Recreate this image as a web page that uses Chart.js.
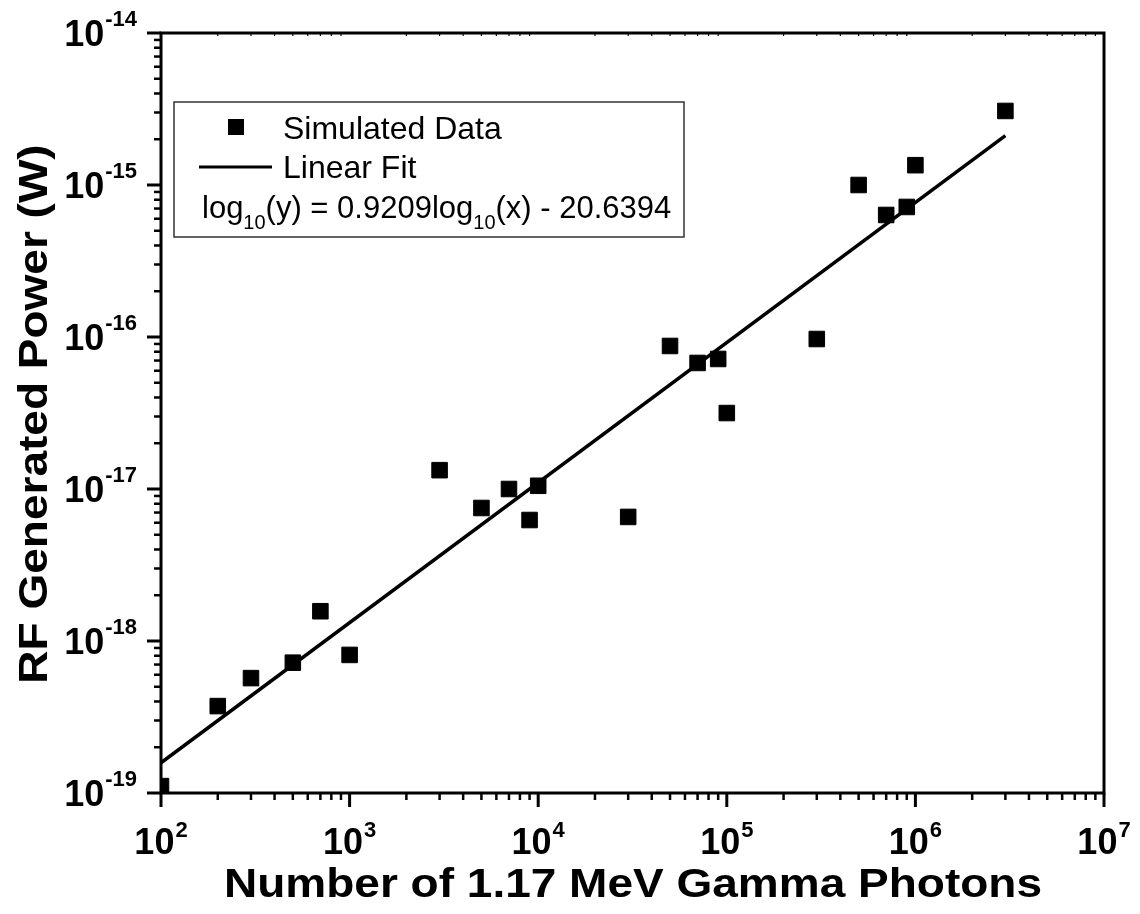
<!DOCTYPE html>
<html>
<head>
<meta charset="utf-8">
<script src="https://cdn.jsdelivr.net/npm/chart.js@4.4.0/dist/chart.umd.min.js"></script>
<style>
  body { margin: 0; background: #fff; }
  #wrap { width: 1140px; height: 914px; }
</style>
</head>
<body>
<div id="wrap"><canvas id="gammaChart"></canvas></div>
<script>
// data
const photons = [100, 200, 300, 500, 700, 1000, 3000, 5000, 7000, 9000, 10000,
  30000, 50000, 70000, 90000, 100000, 300000, 500000, 700000, 900000, 1000000, 3000000];
const rfPower = [1.11e-19, 3.73e-19, 5.7e-19, 7.2e-19, 1.57e-18, 8.1e-19, 1.33e-17,
  7.5e-18, 1.0e-17, 6.25e-18, 1.05e-17, 6.55e-18, 8.73e-17, 6.75e-17, 7.17e-17,
  3.16e-17, 9.7e-17, 1.0e-15, 6.35e-16, 7.17e-16, 1.35e-15, 3.07e-15];
const fitX = [100, 3000000];
const fitY = [1.58e-19, 2.11e-15];

const xDecades = [1e2, 1e3, 1e4, 1e5, 1e6, 1e7];
const xExponents = ['2', '3', '4', '5', '6', '7'];
const yDecades = [1e-19, 1e-18, 1e-17, 1e-16, 1e-15, 1e-14];
const yExponents = ['-19', '-18', '-17', '-16', '-15', '-14'];

const FONT = '"Liberation Sans", Arial, sans-serif';

function wideText(ctx, text, x, y, sx) {
  ctx.save();
  ctx.translate(x, y);
  ctx.scale(sx, 1);
  ctx.fillText(text, 0, 0);
  ctx.restore();
}

function seg(ctx, x1, y1, x2, y2) {
  ctx.beginPath();
  ctx.moveTo(x1, y1);
  ctx.lineTo(x2, y2);
  ctx.stroke();
}

const originAxes = {
  id: 'originAxes',
  afterDraw(chart) {
    const { ctx, chartArea: a, scales: { x, y } } = chart;
    ctx.save();
    ctx.strokeStyle = '#000';
    ctx.fillStyle = '#000';
    ctx.lineCap = 'butt';

    // minor ticks
    for (let i = 0; i < xDecades.length - 1; i++) {
      for (let k = 2; k <= 9; k++) {
        const px = x.getPixelForValue(xDecades[i] * k);
        ctx.lineWidth = 2.5;
        seg(ctx, px, a.bottom, px, a.bottom + 7);
        ctx.lineWidth = 1.2;
        seg(ctx, px, a.top, px, a.top + 3);
      }
    }
    for (let i = 0; i < yDecades.length - 1; i++) {
      for (let k = 2; k <= 9; k++) {
        const py = y.getPixelForValue(yDecades[i] * k);
        ctx.lineWidth = 2.5;
        seg(ctx, a.left - 7, py, a.left, py);
      }
    }
    // major ticks
    ctx.lineWidth = 3;
    xDecades.forEach(v => {
      const px = x.getPixelForValue(v);
      seg(ctx, px, a.bottom, px, a.bottom + 14);
    });
    yDecades.forEach(v => {
      const py = y.getPixelForValue(v);
      seg(ctx, a.left - 14, py, a.left, py);
    });

    // frame
    ctx.lineWidth = 3;
    ctx.strokeRect(a.left, a.top, a.right - a.left, a.bottom - a.top);

    // tick labels
    const bigFont = 'bold 36px ' + FONT;
    const expFont = 'bold 22px ' + FONT;
    ctx.textAlign = 'left';
    ctx.textBaseline = 'alphabetic';
    xDecades.forEach((v, i) => {
      const px = x.getPixelForValue(v);
      ctx.font = bigFont;
      const w10 = ctx.measureText('10').width;
      ctx.font = expFont;
      const we = ctx.measureText(xExponents[i]).width;
      const start = px - (w10 + we + 1) / 2;
      ctx.font = bigFont;
      ctx.fillText('10', start, a.bottom + 61);
      ctx.font = expFont;
      ctx.fillText(xExponents[i], start + w10 + 1, a.bottom + 44);
    });
    yDecades.forEach((v, i) => {
      const py = y.getPixelForValue(v);
      ctx.font = bigFont;
      const w10 = ctx.measureText('10').width;
      ctx.font = expFont;
      const we = ctx.measureText(yExponents[i]).width;
      const start = 137 - (w10 + we + 1);
      ctx.font = bigFont;
      ctx.fillText('10', start, py + 13);
      ctx.font = expFont;
      ctx.fillText(yExponents[i], start + w10 + 1, py - 7);
    });

    // axis titles
    ctx.font = 'bold 40px ' + FONT;
    const sx = 1.15;
    const xt = 'Number of 1.17 MeV Gamma Photons';
    const xw = ctx.measureText(xt).width * sx;
    wideText(ctx, xt, 633 - xw / 2, 897, sx);

    const yt = 'RF Generated Power (W)';
    const yw = ctx.measureText(yt).width * sx;
    ctx.save();
    ctx.translate(47, 414);
    ctx.rotate(-Math.PI / 2);
    wideText(ctx, yt, -yw / 2, 0, sx);
    ctx.restore();

    // legend box
    ctx.fillStyle = '#fff';
    ctx.fillRect(174, 102, 510, 135);
    ctx.strokeStyle = '#333';
    ctx.lineWidth = 1.5;
    ctx.strokeRect(174, 102, 510, 135);
    ctx.fillStyle = '#000';
    ctx.fillRect(228, 119, 16, 16);
    ctx.strokeStyle = '#000';
    ctx.lineWidth = 3;
    seg(ctx, 199, 167, 272, 167);

    const lf = '31px ' + FONT;
    const sf = '20px ' + FONT;
    ctx.font = '32px ' + FONT;
    ctx.fillText('Simulated Data', 283, 139);
    ctx.fillText('Linear Fit', 283, 178);
    let cx = 202;
    const parts = [['log', lf, 218], ['10', sf, 229], ['(y) = 0.9209log', lf, 218],
      ['10', sf, 229], ['(x) - 20.6394', lf, 218]];
    parts.forEach(([t, f, by]) => {
      ctx.font = f;
      ctx.fillText(t, cx, by);
      cx += ctx.measureText(t).width;
    });
    ctx.restore();
  }
};

const ctx = document.getElementById('gammaChart');

new Chart(ctx, {
  type: 'scatter',
  data: {
    datasets: [{
      label: 'Simulated Data',
      data: photons.map((p, i) => ({ x: p, y: rfPower[i] })),
      pointStyle: 'rect',
      pointRadius: 11,
      pointHoverRadius: 11,
      backgroundColor: '#000',
      borderColor: '#000',
      borderWidth: 1,
      clip: 0
    }, {
      label: 'Linear Fit',
      data: fitX.map((p, i) => ({ x: p, y: fitY[i] })),
      showLine: true,
      pointRadius: 0,
      borderColor: '#000',
      borderWidth: 3.5,
      clip: 0
    }]
  },
  options: {
    responsive: true,
    maintainAspectRatio: false,
    animation: false,
    layout: { padding: { left: 0, top: 33, right: 36, bottom: 0 } },
    plugins: {
      legend: { display: false },
      tooltip: { enabled: false }
    },
    scales: {
      x: {
        type: 'logarithmic',
        min: 1e2,
        max: 1e7,
        grid: { display: false },
        border: { display: false },
        ticks: { display: false },
        afterFit: s => { s.height = 121; }
      },
      y: {
        type: 'logarithmic',
        min: 1e-19,
        max: 1e-14,
        grid: { display: false },
        border: { display: false },
        ticks: { display: false },
        afterFit: s => { s.width = 161; }
      }
    }
  },
  plugins: [originAxes]
});
</script>
</body>
</html>
